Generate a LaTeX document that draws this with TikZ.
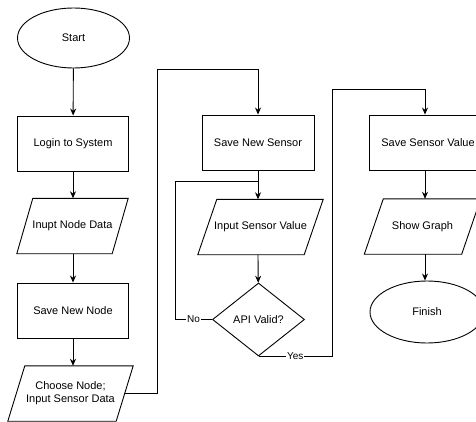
\documentclass[tikz,border=0pt]{standalone}
\usepackage{fontspec}
\setmainfont{Liberation Sans}
\usetikzlibrary{shapes.geometric,arrows.meta,calc}
\newcommand\drawpara[2]{\draw[line] (#1.south west) -- ([xshift=#2]#1.north west) -- (#1.north east) -- ([xshift=-#2]#1.south east) -- cycle;}
\begin{document}
\begin{tikzpicture}[x=1pt,y=-1pt,
  every node/.style={font=\fontsize{11}{13}\selectfont, align=center},
  line/.style={draw=black, line width=0.9pt},
  arr/.style={line, -{Stealth[length=7pt,width=6pt]}},
  term/.style={ellipse, draw, line width=0.9pt, minimum width=112pt, minimum height=60pt, inner sep=0pt},
  proc/.style={rectangle, draw, line width=0.9pt, minimum width=111pt, minimum height=55pt, inner sep=0pt},
  io/.style={rectangle, minimum height=55pt, inner sep=0pt},
  dec/.style={diamond, aspect=1.26, draw, line width=0.9pt, minimum width=92pt, minimum height=73pt, inner sep=0pt},
  lbl/.style={fill=white, inner sep=1pt, font=\fontsize{10}{12}\selectfont}
]
\useasboundingbox (0,0) rectangle (476,422);
\clip (0,0) rectangle (476,422);
% column 1
\node[term] (start) at (73.5,38) {Start};
\node[proc] (login) at (73,143.5) {Login to System};
\node[io, minimum width=111pt] (inode) at (72.5,226) {Inupt Node Data};
\drawpara{inode}{16pt}
\node[proc] (savenode) at (73,310.5) {Save New Node};
\node[io, minimum width=125pt] (choose) at (70.5,393.5) {Choose Node;\\Input Sensor Data};
\drawpara{choose}{17pt}
% column 2
\node[proc, minimum width=112pt] (savesensor) at (258,142.5) {Save New Sensor};
\node[io, minimum width=125pt] (isv) at (260.5,227) {Input Sensor Value};
\drawpara{isv}{19pt}
\node[dec] (valid) at (258.5,319.5) {API Valid?};
% column 3
\node[proc, minimum width=118pt] (savesv) at (428,142.5) {Save Sensor Value};
\node[io, minimum width=116pt] (showg) at (422.5,226.5) {Show Graph};
\drawpara{showg}{19pt}
\node[term, minimum width=114pt, minimum height=62pt] (finish) at (427,312) {Finish};
% helper coordinates
\coordinate (c1) at (157,69);
\coordinate (c2) at (332,89);
\coordinate (c3) at (175,181);
\coordinate (col3) at (425,0);
% connectors
\draw[arr] (start) -- (login);
\draw[arr] (login) -- (inode.north -| login);
\draw[arr] (inode.south -| login) -- (savenode);
\draw[arr] (savenode) -- (choose.north -| savenode);
\draw[arr] ([xshift=-8.5pt]choose.east) -- (c1 |- choose.east) -- (c1) -| (savesensor.north);
\draw[arr] (savesensor) -- (isv.north -| savesensor);
\draw[arr] (isv.south -| savesensor) -- (valid);
\draw[line] (valid.west) -- node[lbl] {No} (c3 |- valid.west) -- (c3) -- (savesensor.south |- c3);
\draw[arr] (valid.south) -- node[lbl] {Yes} (c2 |- valid.south) -- (c2) -| (savesv.north -| col3);
\draw[arr] (savesv.south -| col3) -- (showg.north -| col3);
\draw[arr] (showg.south -| col3) -- (finish.north -| col3);
\end{tikzpicture}
\end{document}
